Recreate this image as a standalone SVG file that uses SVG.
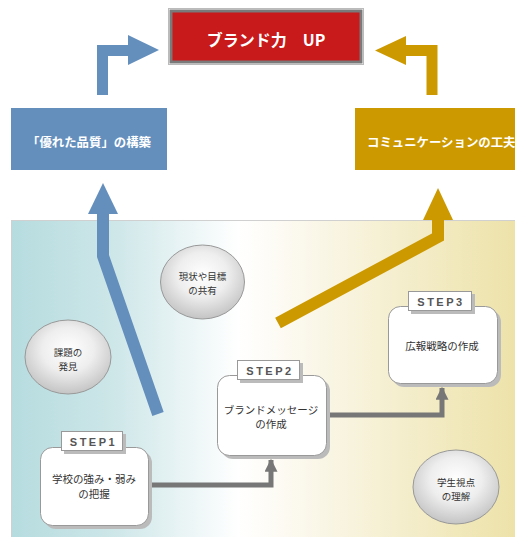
<svg xmlns="http://www.w3.org/2000/svg" width="515" height="537" viewBox="0 0 515 537">
<defs>
<linearGradient id="bg" x1="0" y1="0" x2="1" y2="0">
<stop offset="0" stop-color="#b6dcdf"/>
<stop offset="0.2" stop-color="#cde6e8"/>
<stop offset="0.45" stop-color="#ffffff"/>
<stop offset="0.58" stop-color="#fbf8ec"/>
<stop offset="1" stop-color="#ede2a9"/>
</linearGradient>
<radialGradient id="ball" cx="0.5" cy="0.4" r="0.6">
<stop offset="0" stop-color="#ffffff"/>
<stop offset="0.5" stop-color="#eeeeee"/>
<stop offset="1" stop-color="#c4c4c4"/>
</radialGradient>
<marker id="ah" viewBox="0 0 10 10" refX="9" refY="5" markerWidth="2.6" markerHeight="2.6" orient="auto" markerUnits="strokeWidth">
<path d="M0,0 L10,5 L0,10 z" fill="#777"/>
</marker>
</defs>
<style>
text{font-family:"Noto Sans CJK JP","Liberation Sans",sans-serif;}
.wt{fill:#fff;font-weight:bold;}
.bt{fill:#333;font-size:10.5px;text-anchor:middle;}
.et{fill:#333;font-size:9.5px;text-anchor:middle;}
.st{font-family:"Liberation Sans",sans-serif;fill:#555;font-size:11px;font-weight:bold;letter-spacing:2.5px;text-anchor:middle;}
.box{fill:#fff;stroke:#999;stroke-width:1;}
.sh{fill:#bbb;}
.ell{fill:url(#ball);stroke:#999;stroke-width:1;}
.conn{fill:none;stroke:#777;stroke-width:5;}
</style>

<rect x="11.5" y="220.5" width="504" height="317" fill="url(#bg)" stroke="#d0d0d0" stroke-width="1"/>

<g id="brand">
<rect x="168.5" y="8.5" width="195" height="56" fill="#fff" stroke="#bbb" stroke-width="1"/>
<rect x="171" y="11" width="190" height="51" fill="#c8191b" stroke="#7a7a7a" stroke-width="3"/>
<text x="266" y="46" class="wt" font-size="16" text-anchor="middle">ブランド力　UP</text>
</g>

<g id="quality">
<rect x="11" y="108" width="156" height="62" fill="#648fbd"/>
<text x="89" y="147" class="wt" font-size="12.4" text-anchor="middle">「優れた品質」の構築</text>
</g>

<g id="communication">
<rect x="355" y="108" width="160" height="62" fill="#cc9900"/>
<text x="367" y="147" class="wt" font-size="12.4">コミュニケーションの工夫</text>
</g>

<g id="connectors">
<path d="M102.5,95 V50.5 H130" fill="none" stroke="#648fbd" stroke-width="11"/>
<polygon points="128,35 159,50 128,65" fill="#648fbd"/>
<path d="M432,95 V50.5 H404" fill="none" stroke="#cc9900" stroke-width="11"/>
<polygon points="406,36 375,50.5 406,65" fill="#cc9900"/>
<polyline points="158,414 103,256 103,210" fill="none" stroke="#648fbd" stroke-width="12"/>
<polygon points="88,214 103,183 118,214" fill="#648fbd"/>
<polyline points="278,323 438,237 438,215" fill="none" stroke="#cc9900" stroke-width="12"/>
<polygon points="423,220 438,188 453,220" fill="#cc9900"/>
<polyline class="conn" points="148,485 271,485 271,460" marker-end="url(#ah)"/>
<polyline class="conn" points="326,415 442,415 442,388" marker-end="url(#ah)"/>
</g>

<g id="ball-genjo">
<ellipse class="ell" cx="202.5" cy="282" rx="42" ry="37"/>
<text class="et" x="202.5" y="280">現状や目標</text>
<text class="et" x="202.5" y="294">の共有</text>
</g>
<g id="ball-kadai">
<ellipse class="ell" cx="68" cy="357" rx="43" ry="37"/>
<text class="et" x="68" y="356">課題の</text>
<text class="et" x="68" y="370">発見</text>
</g>
<g id="ball-gakusei">
<ellipse class="ell" cx="456" cy="487" rx="43" ry="37"/>
<text class="et" x="456" y="486">学生視点</text>
<text class="et" x="456" y="500">の理解</text>
</g>

<g id="step1">
<rect class="sh" x="44" y="451" width="108" height="78" rx="12"/>
<rect class="box" x="40.5" y="447.5" width="108" height="78" rx="12"/>
<rect class="sh" x="64" y="434" width="62" height="20"/>
<rect class="box" x="61.5" y="431.5" width="61" height="19"/>
<text class="st" x="93.5" y="446">STEP1</text>
<text class="bt" x="94" y="483">学校の強み・弱み</text>
<text class="bt" x="94" y="498">の把握</text>
</g>

<g id="step2">
<rect class="sh" x="221" y="379" width="109" height="80" rx="12"/>
<rect class="box" x="217.5" y="375.5" width="109" height="80" rx="12"/>
<rect class="sh" x="240" y="363" width="63" height="20"/>
<rect class="box" x="237.5" y="360.5" width="62" height="19"/>
<text class="st" x="270" y="375">STEP2</text>
<text class="bt" x="271" y="414">ブランドメッセージ</text>
<text class="bt" x="271" y="428">の作成</text>
</g>

<g id="step3">
<rect class="sh" x="392" y="310" width="109" height="77" rx="12"/>
<rect class="box" x="388.5" y="306.5" width="109" height="77" rx="12"/>
<rect class="sh" x="411" y="294" width="64" height="20"/>
<rect class="box" x="408.5" y="291.5" width="63" height="19"/>
<text class="st" x="441" y="306">STEP3</text>
<text class="bt" x="442" y="350">広報戦略の作成</text>
</g>
</svg>
